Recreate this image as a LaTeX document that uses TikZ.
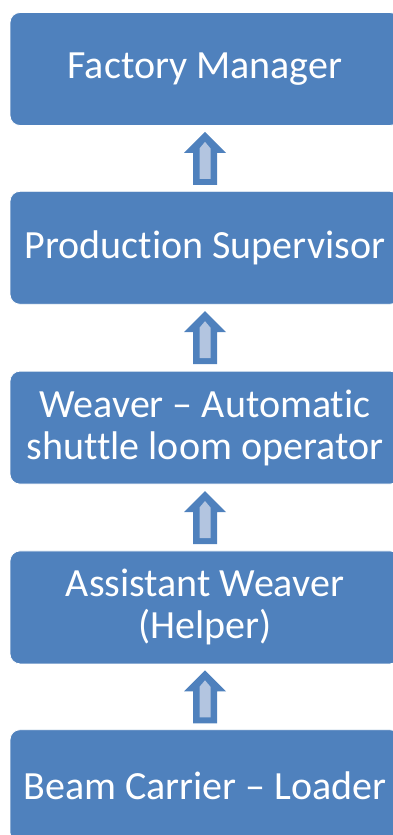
\documentclass[tikz,border=0pt]{standalone}
\usepackage{fontspec}
\setmainfont{Carlito}[Ligatures=NoCommon]
\usetikzlibrary{calc,positioning}
\definecolor{boxblue}{HTML}{4F81BD}
\definecolor{arrlight}{HTML}{B3C5E0}
\tikzset{
	rolebox/.style={fill=boxblue, draw=white, line width=0.8pt, rounded corners=10pt,
		minimum width=390pt, minimum height=113pt, inner sep=0pt,
		text=white, align=center, font=\fontsize{40}{42}\selectfont},
}
% block arrow in the gap between two boxes
\def\uparr(#1)(#2){
	\begin{scope}[shift={($(#1.north)!0.5!(#2.south)$)}]
		\fill[boxblue] (0,26.5) -- (21,5.5) -- (12,5.5) -- (12,-26.5) -- (-12,-26.5) -- (-12,5.5) -- (-21,5.5) -- cycle;
		\fill[arrlight] (0,16.5) -- (5.5,10) -- (5.5,-20.5) -- (-5.5,-20.5) -- (-5.5,10) -- cycle;
	\end{scope}
}

\begin{document}
\begin{tikzpicture}[x=1pt, y=1pt]
		%%%%% START %%%%%
		
		\clip (0,0) rectangle (393,-835);
		
		\node[rolebox] (manager) at (205,-69) {Factory Manager};
		\node[rolebox, below=65pt of manager] (supervisor) {Production Supervisor};
		\node[rolebox, below=66pt of supervisor] (weaver) {Weaver -- Automatic\\shuttle loom operator};
		\node[rolebox, below=66pt of weaver] (assistant) {Assistant Weaver\\(Helper)};
		\node[rolebox, below=65pt of assistant] (loader) {Beam Carrier -- Loader};
		
		\uparr(supervisor)(manager)
		\uparr(weaver)(supervisor)
		\uparr(assistant)(weaver)
		\uparr(loader)(assistant)
		
		%%%%% END %%%%%
	\end{tikzpicture}
\end{document}
